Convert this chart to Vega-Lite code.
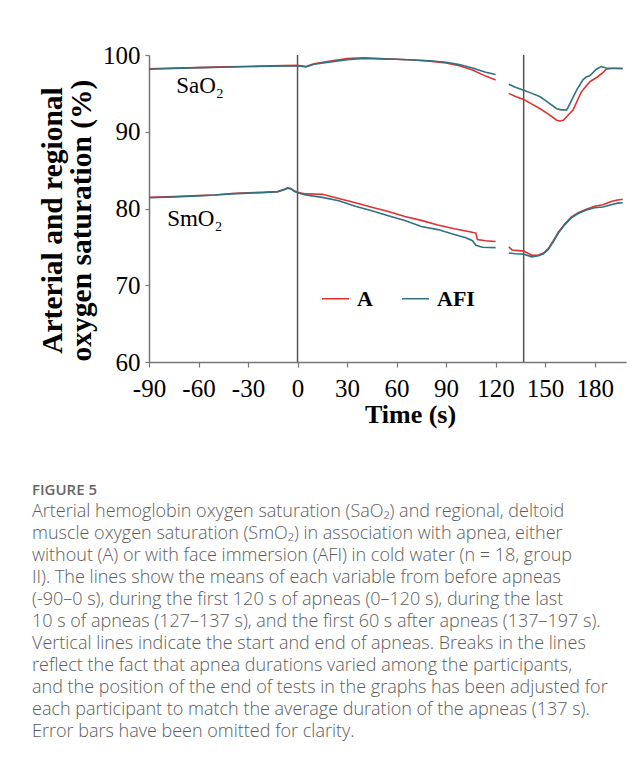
{
  "$schema": "https://vega.github.io/schema/vega-lite/v6.json",
  "width": 477,
  "height": 307,
  "autosize": {"type": "none"},
  "padding": {"left": 149, "top": 55, "right": 18, "bottom": 405},
  "background": "white",
  "config": {"view": {"stroke": null}, "font": "Liberation Serif"},
  "title": {
    "text": "FIGURE 5",
    "subtitle": [
      "Arterial hemoglobin oxygen saturation (SaO₂) and regional, deltoid",
      "muscle oxygen saturation (SmO₂) in association with apnea, either",
      "without (A) or with face immersion (AFI) in cold water (n = 18, group",
      "II). The lines show the means of each variable from before apneas",
      "(-90–0 s), during the first 120 s of apneas (0–120 s), during the last",
      "10 s of apneas (127–137 s), and the first 60 s after apneas (137–197 s).",
      "Vertical lines indicate the start and end of apneas. Breaks in the lines",
      "reflect the fact that apnea durations varied among the participants,",
      "and the position of the end of tests in the graphs has been adjusted for",
      "each participant to match the average duration of the apneas (137 s).",
      "Error bars have been omitted for clarity."
    ],
    "orient": "bottom",
    "anchor": "start",
    "frame": "bounds",
    "offset": 56,
    "dx": -5,
    "baseline": "top",
    "font": "Open Sans",
    "fontSize": 15,
    "fontWeight": 600,
    "color": "#666666",
    "subtitleFont": "Open Sans",
    "subtitleFontSize": 18,
    "subtitleFontWeight": 300,
    "subtitleColor": "#5c5c5c",
    "subtitleLineHeight": 22,
    "subtitlePadding": 5
  },
  "datasets": {
    "series": [
      {"var": "SaO2", "grp": "A", "seg": 1, "t": -90, "v": 98.2},
      {"var": "SaO2", "grp": "A", "seg": 1, "t": -75, "v": 98.3},
      {"var": "SaO2", "grp": "A", "seg": 1, "t": -60, "v": 98.35},
      {"var": "SaO2", "grp": "A", "seg": 1, "t": -45, "v": 98.45},
      {"var": "SaO2", "grp": "A", "seg": 1, "t": -30, "v": 98.5},
      {"var": "SaO2", "grp": "A", "seg": 1, "t": -15, "v": 98.6},
      {"var": "SaO2", "grp": "A", "seg": 1, "t": 0, "v": 98.65},
      {"var": "SaO2", "grp": "A", "seg": 1, "t": 5, "v": 98.5},
      {"var": "SaO2", "grp": "A", "seg": 1, "t": 10, "v": 98.85},
      {"var": "SaO2", "grp": "A", "seg": 1, "t": 20, "v": 99.2},
      {"var": "SaO2", "grp": "A", "seg": 1, "t": 30, "v": 99.55},
      {"var": "SaO2", "grp": "A", "seg": 1, "t": 40, "v": 99.65},
      {"var": "SaO2", "grp": "A", "seg": 1, "t": 50, "v": 99.55},
      {"var": "SaO2", "grp": "A", "seg": 1, "t": 60, "v": 99.45},
      {"var": "SaO2", "grp": "A", "seg": 1, "t": 70, "v": 99.35},
      {"var": "SaO2", "grp": "A", "seg": 1, "t": 80, "v": 99.2},
      {"var": "SaO2", "grp": "A", "seg": 1, "t": 90, "v": 98.95},
      {"var": "SaO2", "grp": "A", "seg": 1, "t": 98, "v": 98.6},
      {"var": "SaO2", "grp": "A", "seg": 1, "t": 106, "v": 98.05},
      {"var": "SaO2", "grp": "A", "seg": 1, "t": 114, "v": 97.25},
      {"var": "SaO2", "grp": "A", "seg": 1, "t": 120, "v": 96.75},
      {"var": "SaO2", "grp": "A", "seg": 2, "t": 128, "v": 95.0},
      {"var": "SaO2", "grp": "A", "seg": 2, "t": 132, "v": 94.6},
      {"var": "SaO2", "grp": "A", "seg": 2, "t": 137, "v": 94.2},
      {"var": "SaO2", "grp": "A", "seg": 2, "t": 142, "v": 93.6},
      {"var": "SaO2", "grp": "A", "seg": 2, "t": 147, "v": 93.0},
      {"var": "SaO2", "grp": "A", "seg": 2, "t": 152, "v": 92.3},
      {"var": "SaO2", "grp": "A", "seg": 2, "t": 157, "v": 91.5},
      {"var": "SaO2", "grp": "A", "seg": 2, "t": 159, "v": 91.4},
      {"var": "SaO2", "grp": "A", "seg": 2, "t": 161, "v": 91.5},
      {"var": "SaO2", "grp": "A", "seg": 2, "t": 163, "v": 91.95},
      {"var": "SaO2", "grp": "A", "seg": 2, "t": 167, "v": 92.85},
      {"var": "SaO2", "grp": "A", "seg": 2, "t": 170, "v": 94.3},
      {"var": "SaO2", "grp": "A", "seg": 2, "t": 172, "v": 95.2},
      {"var": "SaO2", "grp": "A", "seg": 2, "t": 175, "v": 96.0},
      {"var": "SaO2", "grp": "A", "seg": 2, "t": 177, "v": 96.5},
      {"var": "SaO2", "grp": "A", "seg": 2, "t": 180, "v": 96.9},
      {"var": "SaO2", "grp": "A", "seg": 2, "t": 182, "v": 97.2},
      {"var": "SaO2", "grp": "A", "seg": 2, "t": 185, "v": 97.7},
      {"var": "SaO2", "grp": "A", "seg": 2, "t": 187, "v": 98.15},
      {"var": "SaO2", "grp": "A", "seg": 2, "t": 190, "v": 98.25},
      {"var": "SaO2", "grp": "A", "seg": 2, "t": 197, "v": 98.25},
      {"var": "SaO2", "grp": "AFI", "seg": 1, "t": -90, "v": 98.15},
      {"var": "SaO2", "grp": "AFI", "seg": 1, "t": -75, "v": 98.25},
      {"var": "SaO2", "grp": "AFI", "seg": 1, "t": -60, "v": 98.35},
      {"var": "SaO2", "grp": "AFI", "seg": 1, "t": -45, "v": 98.4},
      {"var": "SaO2", "grp": "AFI", "seg": 1, "t": -30, "v": 98.5},
      {"var": "SaO2", "grp": "AFI", "seg": 1, "t": -15, "v": 98.55},
      {"var": "SaO2", "grp": "AFI", "seg": 1, "t": 0, "v": 98.6},
      {"var": "SaO2", "grp": "AFI", "seg": 1, "t": 5, "v": 98.45},
      {"var": "SaO2", "grp": "AFI", "seg": 1, "t": 10, "v": 98.8},
      {"var": "SaO2", "grp": "AFI", "seg": 1, "t": 20, "v": 99.1},
      {"var": "SaO2", "grp": "AFI", "seg": 1, "t": 30, "v": 99.4},
      {"var": "SaO2", "grp": "AFI", "seg": 1, "t": 40, "v": 99.55},
      {"var": "SaO2", "grp": "AFI", "seg": 1, "t": 50, "v": 99.5},
      {"var": "SaO2", "grp": "AFI", "seg": 1, "t": 60, "v": 99.45},
      {"var": "SaO2", "grp": "AFI", "seg": 1, "t": 70, "v": 99.35},
      {"var": "SaO2", "grp": "AFI", "seg": 1, "t": 80, "v": 99.25},
      {"var": "SaO2", "grp": "AFI", "seg": 1, "t": 90, "v": 99.05},
      {"var": "SaO2", "grp": "AFI", "seg": 1, "t": 98, "v": 98.75},
      {"var": "SaO2", "grp": "AFI", "seg": 1, "t": 106, "v": 98.3},
      {"var": "SaO2", "grp": "AFI", "seg": 1, "t": 114, "v": 97.75},
      {"var": "SaO2", "grp": "AFI", "seg": 1, "t": 120, "v": 97.45},
      {"var": "SaO2", "grp": "AFI", "seg": 2, "t": 128, "v": 96.2},
      {"var": "SaO2", "grp": "AFI", "seg": 2, "t": 132, "v": 95.8},
      {"var": "SaO2", "grp": "AFI", "seg": 2, "t": 137, "v": 95.4},
      {"var": "SaO2", "grp": "AFI", "seg": 2, "t": 142, "v": 95.0},
      {"var": "SaO2", "grp": "AFI", "seg": 2, "t": 147, "v": 94.55},
      {"var": "SaO2", "grp": "AFI", "seg": 2, "t": 152, "v": 93.8},
      {"var": "SaO2", "grp": "AFI", "seg": 2, "t": 157, "v": 93.0},
      {"var": "SaO2", "grp": "AFI", "seg": 2, "t": 160, "v": 92.85},
      {"var": "SaO2", "grp": "AFI", "seg": 2, "t": 163, "v": 92.85},
      {"var": "SaO2", "grp": "AFI", "seg": 2, "t": 164, "v": 93.2},
      {"var": "SaO2", "grp": "AFI", "seg": 2, "t": 166, "v": 94.1},
      {"var": "SaO2", "grp": "AFI", "seg": 2, "t": 169, "v": 95.4},
      {"var": "SaO2", "grp": "AFI", "seg": 2, "t": 171, "v": 96.1},
      {"var": "SaO2", "grp": "AFI", "seg": 2, "t": 173, "v": 96.8},
      {"var": "SaO2", "grp": "AFI", "seg": 2, "t": 175, "v": 97.15},
      {"var": "SaO2", "grp": "AFI", "seg": 2, "t": 177, "v": 97.3},
      {"var": "SaO2", "grp": "AFI", "seg": 2, "t": 179, "v": 97.7},
      {"var": "SaO2", "grp": "AFI", "seg": 2, "t": 181, "v": 98.15},
      {"var": "SaO2", "grp": "AFI", "seg": 2, "t": 184, "v": 98.5},
      {"var": "SaO2", "grp": "AFI", "seg": 2, "t": 187, "v": 98.3},
      {"var": "SaO2", "grp": "AFI", "seg": 2, "t": 197, "v": 98.25},
      {"var": "SmO2", "grp": "A", "seg": 1, "t": -90, "v": 81.45},
      {"var": "SmO2", "grp": "A", "seg": 1, "t": -75, "v": 81.55},
      {"var": "SmO2", "grp": "A", "seg": 1, "t": -60, "v": 81.7},
      {"var": "SmO2", "grp": "A", "seg": 1, "t": -50, "v": 81.75},
      {"var": "SmO2", "grp": "A", "seg": 1, "t": -40, "v": 81.95},
      {"var": "SmO2", "grp": "A", "seg": 1, "t": -30, "v": 82.05},
      {"var": "SmO2", "grp": "A", "seg": 1, "t": -20, "v": 82.1},
      {"var": "SmO2", "grp": "A", "seg": 1, "t": -12, "v": 82.2},
      {"var": "SmO2", "grp": "A", "seg": 1, "t": -8, "v": 82.5},
      {"var": "SmO2", "grp": "A", "seg": 1, "t": -6, "v": 82.7},
      {"var": "SmO2", "grp": "A", "seg": 1, "t": -4, "v": 82.6},
      {"var": "SmO2", "grp": "A", "seg": 1, "t": -2, "v": 82.3},
      {"var": "SmO2", "grp": "A", "seg": 1, "t": 0, "v": 82.1},
      {"var": "SmO2", "grp": "A", "seg": 1, "t": 5, "v": 81.9},
      {"var": "SmO2", "grp": "A", "seg": 1, "t": 15, "v": 81.85},
      {"var": "SmO2", "grp": "A", "seg": 1, "t": 25, "v": 81.3},
      {"var": "SmO2", "grp": "A", "seg": 1, "t": 35, "v": 80.75},
      {"var": "SmO2", "grp": "A", "seg": 1, "t": 45, "v": 80.15},
      {"var": "SmO2", "grp": "A", "seg": 1, "t": 55, "v": 79.6},
      {"var": "SmO2", "grp": "A", "seg": 1, "t": 65, "v": 78.95},
      {"var": "SmO2", "grp": "A", "seg": 1, "t": 75, "v": 78.45},
      {"var": "SmO2", "grp": "A", "seg": 1, "t": 85, "v": 77.85},
      {"var": "SmO2", "grp": "A", "seg": 1, "t": 95, "v": 77.35},
      {"var": "SmO2", "grp": "A", "seg": 1, "t": 105, "v": 76.95},
      {"var": "SmO2", "grp": "A", "seg": 1, "t": 108, "v": 76.8},
      {"var": "SmO2", "grp": "A", "seg": 1, "t": 109, "v": 75.95},
      {"var": "SmO2", "grp": "A", "seg": 1, "t": 114, "v": 75.8},
      {"var": "SmO2", "grp": "A", "seg": 1, "t": 120, "v": 75.7},
      {"var": "SmO2", "grp": "A", "seg": 2, "t": 128, "v": 75.0},
      {"var": "SmO2", "grp": "A", "seg": 2, "t": 130, "v": 74.6},
      {"var": "SmO2", "grp": "A", "seg": 2, "t": 137, "v": 74.45},
      {"var": "SmO2", "grp": "A", "seg": 2, "t": 142, "v": 73.9},
      {"var": "SmO2", "grp": "A", "seg": 2, "t": 146, "v": 73.95},
      {"var": "SmO2", "grp": "A", "seg": 2, "t": 149, "v": 74.2},
      {"var": "SmO2", "grp": "A", "seg": 2, "t": 152, "v": 74.8},
      {"var": "SmO2", "grp": "A", "seg": 2, "t": 155, "v": 75.8},
      {"var": "SmO2", "grp": "A", "seg": 2, "t": 158, "v": 76.9},
      {"var": "SmO2", "grp": "A", "seg": 2, "t": 162, "v": 78.0},
      {"var": "SmO2", "grp": "A", "seg": 2, "t": 166, "v": 78.9},
      {"var": "SmO2", "grp": "A", "seg": 2, "t": 170, "v": 79.45},
      {"var": "SmO2", "grp": "A", "seg": 2, "t": 175, "v": 79.9},
      {"var": "SmO2", "grp": "A", "seg": 2, "t": 180, "v": 80.3},
      {"var": "SmO2", "grp": "A", "seg": 2, "t": 185, "v": 80.5},
      {"var": "SmO2", "grp": "A", "seg": 2, "t": 190, "v": 80.9},
      {"var": "SmO2", "grp": "A", "seg": 2, "t": 194, "v": 81.1},
      {"var": "SmO2", "grp": "A", "seg": 2, "t": 197, "v": 81.2},
      {"var": "SmO2", "grp": "AFI", "seg": 1, "t": -90, "v": 81.4},
      {"var": "SmO2", "grp": "AFI", "seg": 1, "t": -75, "v": 81.5},
      {"var": "SmO2", "grp": "AFI", "seg": 1, "t": -60, "v": 81.65},
      {"var": "SmO2", "grp": "AFI", "seg": 1, "t": -50, "v": 81.75},
      {"var": "SmO2", "grp": "AFI", "seg": 1, "t": -40, "v": 81.9},
      {"var": "SmO2", "grp": "AFI", "seg": 1, "t": -30, "v": 82.0},
      {"var": "SmO2", "grp": "AFI", "seg": 1, "t": -20, "v": 82.1},
      {"var": "SmO2", "grp": "AFI", "seg": 1, "t": -12, "v": 82.2},
      {"var": "SmO2", "grp": "AFI", "seg": 1, "t": -8, "v": 82.45},
      {"var": "SmO2", "grp": "AFI", "seg": 1, "t": -6, "v": 82.65},
      {"var": "SmO2", "grp": "AFI", "seg": 1, "t": -4, "v": 82.55},
      {"var": "SmO2", "grp": "AFI", "seg": 1, "t": -2, "v": 82.25},
      {"var": "SmO2", "grp": "AFI", "seg": 1, "t": 0, "v": 82.05},
      {"var": "SmO2", "grp": "AFI", "seg": 1, "t": 5, "v": 81.75},
      {"var": "SmO2", "grp": "AFI", "seg": 1, "t": 15, "v": 81.45},
      {"var": "SmO2", "grp": "AFI", "seg": 1, "t": 25, "v": 81.0},
      {"var": "SmO2", "grp": "AFI", "seg": 1, "t": 35, "v": 80.3},
      {"var": "SmO2", "grp": "AFI", "seg": 1, "t": 45, "v": 79.7},
      {"var": "SmO2", "grp": "AFI", "seg": 1, "t": 55, "v": 79.05},
      {"var": "SmO2", "grp": "AFI", "seg": 1, "t": 65, "v": 78.45},
      {"var": "SmO2", "grp": "AFI", "seg": 1, "t": 75, "v": 77.65},
      {"var": "SmO2", "grp": "AFI", "seg": 1, "t": 85, "v": 77.25},
      {"var": "SmO2", "grp": "AFI", "seg": 1, "t": 95, "v": 76.6},
      {"var": "SmO2", "grp": "AFI", "seg": 1, "t": 102, "v": 76.2},
      {"var": "SmO2", "grp": "AFI", "seg": 1, "t": 106, "v": 75.8},
      {"var": "SmO2", "grp": "AFI", "seg": 1, "t": 108, "v": 75.2},
      {"var": "SmO2", "grp": "AFI", "seg": 1, "t": 112, "v": 74.95},
      {"var": "SmO2", "grp": "AFI", "seg": 1, "t": 120, "v": 74.9},
      {"var": "SmO2", "grp": "AFI", "seg": 2, "t": 128, "v": 74.2},
      {"var": "SmO2", "grp": "AFI", "seg": 2, "t": 132, "v": 74.1},
      {"var": "SmO2", "grp": "AFI", "seg": 2, "t": 137, "v": 74.05},
      {"var": "SmO2", "grp": "AFI", "seg": 2, "t": 142, "v": 73.7},
      {"var": "SmO2", "grp": "AFI", "seg": 2, "t": 146, "v": 73.85},
      {"var": "SmO2", "grp": "AFI", "seg": 2, "t": 149, "v": 74.1},
      {"var": "SmO2", "grp": "AFI", "seg": 2, "t": 152, "v": 74.7},
      {"var": "SmO2", "grp": "AFI", "seg": 2, "t": 155, "v": 75.7},
      {"var": "SmO2", "grp": "AFI", "seg": 2, "t": 158, "v": 76.8},
      {"var": "SmO2", "grp": "AFI", "seg": 2, "t": 162, "v": 77.9},
      {"var": "SmO2", "grp": "AFI", "seg": 2, "t": 166, "v": 78.8},
      {"var": "SmO2", "grp": "AFI", "seg": 2, "t": 170, "v": 79.35},
      {"var": "SmO2", "grp": "AFI", "seg": 2, "t": 175, "v": 79.8},
      {"var": "SmO2", "grp": "AFI", "seg": 2, "t": 180, "v": 80.1},
      {"var": "SmO2", "grp": "AFI", "seg": 2, "t": 185, "v": 80.2},
      {"var": "SmO2", "grp": "AFI", "seg": 2, "t": 190, "v": 80.5},
      {"var": "SmO2", "grp": "AFI", "seg": 2, "t": 194, "v": 80.7},
      {"var": "SmO2", "grp": "AFI", "seg": 2, "t": 197, "v": 80.75}
    ],
    "events": [{"t": 0}, {"t": 137}],
    "labels": [
      {"lab": "SaO₂", "t": -73.5, "v": 95.0},
      {"lab": "SmO₂", "t": -79, "v": 77.7}
    ]
  },
  "layer": [
    {
      "data": {"name": "events"},
      "mark": {"type": "rule", "color": "#555555", "strokeWidth": 1.5},
      "encoding": {
        "x": {"field": "t", "type": "quantitative", "scale": {"domain": [-90, 199], "nice": false, "zero": false}}
      }
    },
    {
      "data": {"name": "series"},
      "mark": {"type": "line", "strokeWidth": 1.6},
      "encoding": {
        "x": {
          "field": "t", "type": "quantitative",
          "scale": {"domain": [-90, 199], "nice": false, "zero": false},
          "axis": {
            "values": [-90, -60, -30, 0, 30, 60, 90, 120, 150, 180],
            "labelExpr": "'' + datum.value",
            "grid": false,
            "labelFont": "Liberation Serif", "labelFontSize": 25, "labelColor": "#000000",
            "labelPadding": 9, "labelFlush": false,
            "tickSize": 5, "tickColor": "#777777", "tickWidth": 1.2,
            "domainColor": "#777777", "domainWidth": 1.5,
            "title": "Time (s)",
            "titleFont": "Liberation Serif", "titleFontSize": 26, "titleFontWeight": "bold", "titleColor": "#000000",
            "titleX": 261, "titleY": 60, "titleAlign": "center", "titleBaseline": "alphabetic"
          }
        },
        "y": {
          "field": "v", "type": "quantitative",
          "scale": {"domain": [60, 100], "nice": false, "zero": false},
          "axis": {
            "values": [60, 70, 80, 90, 100],
            "grid": false,
            "labelFont": "Liberation Serif", "labelFontSize": 25, "labelColor": "#000000",
            "labelPadding": 5, "labelFlush": false,
            "tickSize": 4, "tickColor": "#777777", "tickWidth": 1.2,
            "domainColor": "#777777", "domainWidth": 1.5,
            "title": ["Arterial and regional", "oxygen saturation (%)"],
            "titleFont": "Liberation Serif", "titleFontSize": 29.5, "titleFontWeight": "bold", "titleColor": "#000000",
            "titleLineHeight": 29,
            "titleAngle": -90,
            "titleX": -97, "titleY": 165, "titleAlign": "center", "titleBaseline": "middle"
          }
        },
        "color": {
          "field": "grp", "type": "nominal",
          "scale": {"domain": ["A", "AFI"], "range": ["#e0312f", "#2f7282"]},
          "legend": {
            "orient": "none", "legendX": 172, "legendY": 229,
            "direction": "horizontal", "title": null,
            "symbolType": "stroke", "symbolSize": 730, "symbolStrokeWidth": 1.5,
            "labelFont": "Liberation Serif", "labelFontSize": 22, "labelFontWeight": "bold", "labelColor": "#000000",
            "labelOffset": 7, "columnPadding": 25, "padding": 0
          }
        },
        "detail": [{"field": "var"}, {"field": "seg"}],
        "order": {"field": "t", "type": "quantitative"}
      }
    },
    {
      "data": {"name": "labels"},
      "mark": {"type": "text", "align": "left", "baseline": "alphabetic", "font": "Liberation Serif", "fontSize": 23, "color": "#000000"},
      "encoding": {
        "x": {"field": "t", "type": "quantitative"},
        "y": {"field": "v", "type": "quantitative"},
        "text": {"field": "lab"}
      }
    }
  ]
}
